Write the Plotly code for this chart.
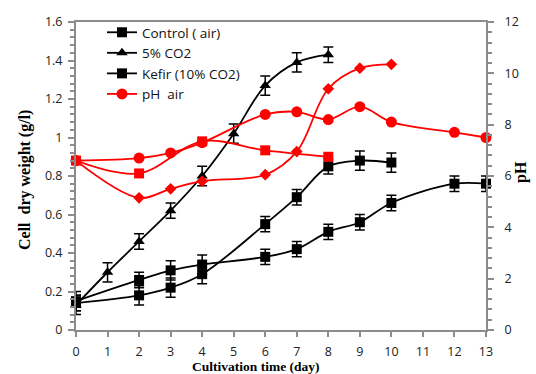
import plotly.graph_objects as go

# Cell dry weight (g/l)
ctrl_days = [0, 2, 3, 4, 6, 7, 8, 9, 10, 12, 13]
ctrl_vals = [0.15, 0.26, 0.31, 0.34, 0.38, 0.42, 0.51, 0.56, 0.66, 0.76, 0.76]
ctrl_err = [0.05, 0.04, 0.05, 0.05, 0.04, 0.04, 0.04, 0.04, 0.04, 0.04, 0.04]

co2_days = [0, 1, 2, 3, 4, 5, 6, 7, 8]
co2_vals = [0.13, 0.30, 0.46, 0.62, 0.80, 1.02, 1.27, 1.39, 1.43]
co2_err = [0.05, 0.05, 0.04, 0.04, 0.05, 0.05, 0.05, 0.05, 0.04]

kefir_days = [0, 2, 3, 4, 6, 7, 8, 9, 10]
kefir_vals = [0.14, 0.18, 0.22, 0.29, 0.55, 0.69, 0.85, 0.88, 0.87]
kefir_err = [0.04, 0.05, 0.05, 0.05, 0.04, 0.04, 0.04, 0.05, 0.05]

# pH
ph_air_days = [0, 2, 3, 4, 6, 7, 8, 9, 10, 12, 13]
ph_air_vals = [6.6, 6.7, 6.9, 7.3, 8.4, 8.5, 8.2, 8.7, 8.1, 7.7, 7.5]

ph_sq_days = [0, 2, 4, 6, 8]
ph_sq_vals = [6.6, 6.1, 7.35, 7.0, 6.75]

ph_dm_days = [0, 2, 3, 4, 6, 7, 8, 9, 10]
ph_dm_vals = [6.6, 5.15, 5.5, 5.8, 6.05, 6.95, 9.4, 10.2, 10.35]

RED = "#ff0000"
BLACK = "#000000"
GRAY = "#8c8c8c"

fig = go.Figure()

def err(e):
    return dict(type="data", array=e, visible=True, color=BLACK, thickness=1.5, width=5)

fig.add_trace(go.Scatter(x=ctrl_days, y=ctrl_vals, name="Control ( air)", mode="lines+markers",
                         line=dict(color=BLACK, width=1.8, shape="spline"),
                         marker=dict(symbol="square", size=10, color=BLACK),
                         error_y=err(ctrl_err), cliponaxis=False))
fig.add_trace(go.Scatter(x=co2_days, y=co2_vals, name="5% CO2", mode="lines+markers",
                         line=dict(color=BLACK, width=1.8, shape="spline"),
                         marker=dict(symbol="triangle-up", size=10, color=BLACK),
                         error_y=err(co2_err), cliponaxis=False))
fig.add_trace(go.Scatter(x=kefir_days, y=kefir_vals, name="Kefir (10% CO2)", mode="lines+markers",
                         line=dict(color=BLACK, width=1.8, shape="spline"),
                         marker=dict(symbol="square", size=10, color=BLACK),
                         error_y=err(kefir_err), cliponaxis=False))
fig.add_trace(go.Scatter(x=ph_air_days, y=ph_air_vals, name="pH  air", mode="lines+markers",
                         line=dict(color=RED, width=1.8, shape="spline"),
                         marker=dict(symbol="circle", size=11, color=RED),
                         yaxis="y2", cliponaxis=False))
fig.add_trace(go.Scatter(x=ph_sq_days, y=ph_sq_vals, name="pH sq", mode="lines+markers",
                         line=dict(color=RED, width=1.8, shape="spline"),
                         marker=dict(symbol="square", size=10, color=RED),
                         yaxis="y2", showlegend=False, cliponaxis=False))
fig.add_trace(go.Scatter(x=ph_dm_days, y=ph_dm_vals, name="pH dm", mode="lines+markers",
                         line=dict(color=RED, width=1.8, shape="spline"),
                         marker=dict(symbol="diamond", size=9, color=RED),
                         yaxis="y2", showlegend=False, cliponaxis=False))

tickfont = dict(family="Open Sans", size=12.5, color="#222222")

L, R, T, B = 76, 50, 22, 44
PW = 536 - L - R
PH = 374 - T - B

def px(xp):
    return (xp - L) / PW

def py(yp):
    return (374 - B - yp) / PH

fig.update_layout(
    width=536, height=374,
    margin=dict(l=L, r=R, t=T, b=B, autoexpand=False),
    plot_bgcolor="white", paper_bgcolor="white",
    showlegend=True,
    legend=dict(x=px(102), y=py(17), xanchor="left", yanchor="top",
                font=dict(family="Open Sans", size=13.5, color="#111111"),
                bgcolor="rgba(0,0,0,0)", tracegroupgap=0),
    xaxis=dict(range=[0, 13], dtick=1, tick0=0, showgrid=False, zeroline=False,
               showline=True, linecolor=GRAY, linewidth=2, mirror=True,
               ticks="outside", ticklen=5, tickcolor=GRAY, tickwidth=2,
               tickfont=tickfont, automargin=False, ticklabelstandoff=4),
    yaxis=dict(range=[0, 1.6], dtick=0.2, tick0=0, showgrid=False, zeroline=False,
               showline=True, linecolor=GRAY, linewidth=2,
               ticks="outside", ticklen=6, tickcolor=GRAY, tickwidth=2,
               tickfont=tickfont, tickformat="~g", automargin=False, ticklabelstandoff=3,
               minor=dict(dtick=0.04, ticks="outside", ticklen=4, tickcolor=GRAY, tickwidth=1.5)),
    yaxis2=dict(range=[0, 12], dtick=2, tick0=0, overlaying="y", side="right",
                showgrid=False, zeroline=False,
                showline=True, linecolor=GRAY, linewidth=2,
                ticks="outside", ticklen=6, tickcolor=GRAY, tickwidth=2,
                tickfont=tickfont, automargin=False, ticklabelstandoff=8,
                minor=dict(dtick=0.4, ticks="outside", ticklen=4, tickcolor=GRAY, tickwidth=1.5)),
    annotations=[
        dict(text="<b>Cultivation time (day)</b>", x=px(256), y=py(366), xref="paper", yref="paper",
             xanchor="center", yanchor="middle", showarrow=False,
             font=dict(family="Liberation Serif", size=13.5, color="#000000")),
        dict(text="<b>Cell  dry weight (g/l)</b>", x=px(25), y=py(180), xref="paper", yref="paper",
             xanchor="center", yanchor="middle", showarrow=False, textangle=-90,
             font=dict(family="Liberation Serif", size=16, color="#000000")),
        dict(text="<b>pH</b>", x=px(521), y=py(172), xref="paper", yref="paper",
             xanchor="center", yanchor="middle", showarrow=False, textangle=-90,
             font=dict(family="Liberation Serif", size=16, color="#000000")),
    ],
)

fig.write_html("out.html", config={"displayModeBar": False},
               post_script="document.body.style.margin='0';document.body.style.padding='0';")
